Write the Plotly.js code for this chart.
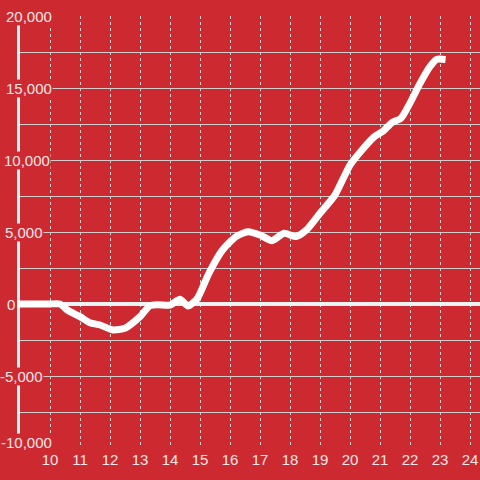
<!DOCTYPE html>
<html>
<head>
<meta charset="utf-8">
<script src="https://cdn.plot.ly/plotly-3.0.1.min.js"></script>
<style>html,body{margin:0;padding:0;background:#cc2a30;}#chart{width:480px;height:480px;}
.scatterlayer .js-line{stroke-linecap:square;}</style>
</head>
<body>
<div id="chart"></div>
<script>
// Data
const xValues = [9, 10, 10.33, 10.6, 11, 11.33, 11.67, 12.1, 12.5, 13, 13.33, 13.6, 14, 14.33, 14.6, 14.9, 15.3, 15.75, 16.2, 16.6, 17, 17.4, 17.8, 18.2, 18.55, 19, 19.5, 20, 20.4, 20.8, 21.1, 21.4, 21.7, 22, 22.33, 22.67, 22.9, 23.07];
const yValues = [0, 0, 0, -450, -880, -1300, -1460, -1800, -1680, -880, -120, -50, -80, 330, -140, 350, 2150, 3750, 4680, 5020, 4790, 4400, 4910, 4680, 5140, 6300, 7570, 9650, 10700, 11600, 12000, 12600, 12900, 13950, 15300, 16500, 17000, 17000];
const xTickVals = [10, 11, 12, 13, 14, 15, 16, 17, 18, 19, 20, 21, 22, 23, 24];
const xTickText = ["10", "11", "12", "13", "14", "15", "16", "17", "18", "19", "20", "21", "22", "23", "24"];
const yGridVals = [-10000, -7500, -5000, -2500, 0, 2500, 5000, 7500, 10000, 12500, 15000, 17500, 20000];
const yLabelVals = [20000, 15000, 10000, 5000, 0, -5000, -10000];
const yLabelText = ["20,000", "15,000", "10,000", "5,000", "0", "-5,000", "-10,000"];

// layout: right edge (px) and vertical shift of each y label
const labelRight = [53, 53, 51, 44, 16, 44, 53];
const labelShift = [0, 0, 0, 0, 0, 0, 6];

const bg = "#cc2a30";
const textColor = "#f6e6e6";
const gridColor = "#d2cccc";
const plotL = 20, plotW = 460;

const trace = {
  x: xValues,
  y: yValues,
  type: "scatter",
  mode: "lines",
  line: {color: "#ffffff", width: 7, shape: "spline", smoothing: 0.6},
  hoverinfo: "skip"
};

const annotations = yLabelVals.map((v, i) => ({
  xref: "paper", yref: "y",
  x: (labelRight[i] - plotL) / plotW, y: v,
  xanchor: "right", yanchor: "middle",
  yshift: labelShift[i],
  text: yLabelText[i],
  showarrow: false,
  bgcolor: bg,
  borderpad: 0,
  font: {family: "Liberation Sans, Arial, sans-serif", size: 15, color: textColor}
}));

const layout = {
  width: 480, height: 480,
  margin: {l: plotL, r: 0, t: 16, b: 32},
  paper_bgcolor: bg,
  plot_bgcolor: bg,
  showlegend: false,
  xaxis: {
    range: [9, 24.3333],
    tickvals: xTickVals,
    ticktext: xTickText,
    showgrid: true,
    gridcolor: gridColor,
    gridwidth: 1,
    griddash: "dot",
    zeroline: false,
    showline: false,
    ticks: "",
    ticklabelstandoff: 1,
    tickfont: {family: "Liberation Sans, Arial, sans-serif", size: 15, color: textColor},
    fixedrange: true
  },
  yaxis: {
    range: [-10000, 20000],
    tickvals: yGridVals,
    showticklabels: false,
    showgrid: true,
    gridcolor: gridColor,
    gridwidth: 1,
    zeroline: true,
    zerolinecolor: "#f2f2f2",
    zerolinewidth: 4,
    showline: true,
    linecolor: "#f2f2f2",
    linewidth: 3,
    ticks: "",
    fixedrange: true
  },
  shapes: [{
    type: "line", xref: "paper", yref: "y",
    x0: (17 - plotL) / plotW, x1: 0.01, y0: 0, y1: 0,
    line: {color: "#ffffff", width: 6}, layer: "above"
  }],
  annotations: annotations
};

Plotly.newPlot("chart", [trace], layout, {displayModeBar: false, staticPlot: true});
</script>
</body>
</html>
